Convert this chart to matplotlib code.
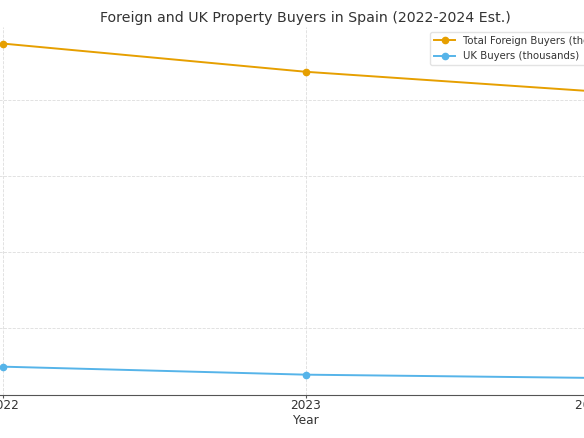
import matplotlib
matplotlib.use("Agg")
import matplotlib.pyplot as plt

years = [2022, 2023, 2024]
foreign_buyers = [94.8, 87.4, 82.0]
uk_buyers = [9.9, 7.8, 6.9]
year_labels = ["2022", "2023", "2024 (Est.)"]

text_color = "#333333"

fig = plt.figure(figsize=(5.84, 4.38), dpi=100)
# axes is wider than the figure: the reference is a cropped view
ax = fig.add_axes([-0.046, 0.0986, 1.139, 0.840])

ax.plot(years, foreign_buyers, color="#E69F00", marker="o", markersize=4.5,
        linewidth=1.4, label="Total Foreign Buyers (thousands)")
ax.plot(years, uk_buyers, color="#56B4E9", marker="o", markersize=4.5,
        linewidth=1.4, label="UK Buyers (thousands)")

ax.set_xticks(years)
ax.set_xticklabels(year_labels)
ax.set_yticks([20, 40, 60, 80])
ax.tick_params(axis="both", colors=text_color, labelsize=8.7)
ax.tick_params(axis="x", length=2.5, pad=0.3, color="#555555")

ax.set_title("Foreign and UK Property Buyers in Spain (2022-2024 Est.)",
             color=text_color, fontsize=10.2, pad=3.5)
ax.set_xlabel("Year", color=text_color, fontsize=8.7, labelpad=2)

ax.grid(True, linestyle="--", linewidth=0.6, color="#dddddd")
ax.set_axisbelow(True)
for side in ["top", "right", "left"]:
    ax.spines[side].set_visible(False)
ax.spines["bottom"].set_color("#555555")

leg = ax.legend(loc="upper right", fontsize=7.3, frameon=True)
leg.get_frame().set_edgecolor("#dddddd")
for t in leg.get_texts():
    t.set_color(text_color)

fig.savefig("out.png", dpi=100)
